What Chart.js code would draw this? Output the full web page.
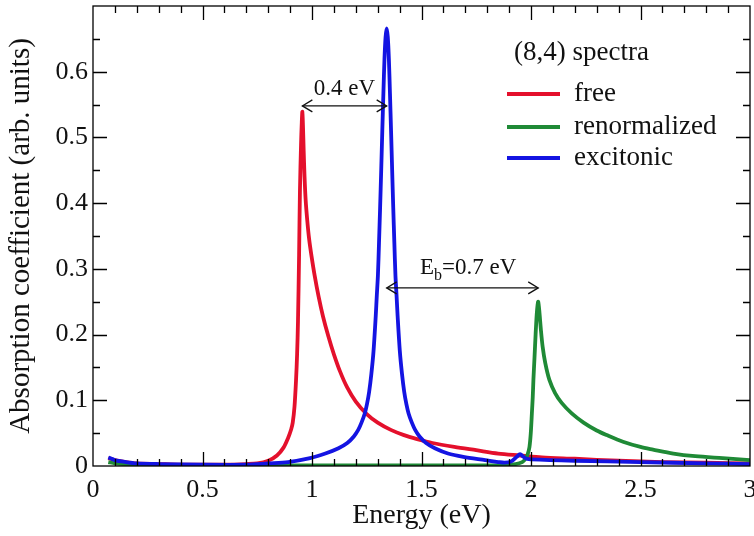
<!DOCTYPE html>
<html>
<head>
<meta charset="utf-8">
<script src="https://cdn.jsdelivr.net/npm/chart.js@4/dist/chart.umd.min.js"></script>
<style>
  html, body { margin: 0; padding: 0; background: #fff; }
  #wrap { width: 754px; height: 536px; }
</style>
</head>
<body>
<div id="wrap"><canvas id="chart1"></canvas></div>
<script>
// (8,4) tube: free, renormalized and excitonic absorption
const freeE = [0.07, 0.1, 0.15, 0.2, 0.3, 0.4, 0.5, 0.6, 0.7, 0.75, 0.8, 0.84, 0.87, 0.89, 0.905, 0.912, 0.92, 0.927, 0.932, 0.936, 0.941, 0.945, 0.95, 0.953, 0.956,
    0.959, 0.962, 0.966, 0.971, 0.978, 0.987, 0.998, 1.012, 1.03, 1.05, 1.075, 1.1, 1.128, 1.16, 1.2, 1.25, 1.3, 1.36, 1.42, 1.48, 1.55, 1.65,
    1.75, 1.85, 1.95, 2.05, 2.2, 2.4, 2.6, 2.8, 3.0]
const freeA = [0.012, 0.009, 0.006, 0.004, 0.003, 0.002, 0.002, 0.002, 0.003, 0.004, 0.008, 0.016, 0.028, 0.042, 0.056, 0.066, 0.09, 0.13, 0.17, 0.22, 0.32, 0.42, 0.49, 0.52, 0.539,
    0.515, 0.48, 0.44, 0.405, 0.375, 0.345, 0.319, 0.29, 0.258, 0.228, 0.197, 0.17, 0.144, 0.12, 0.098, 0.079, 0.066, 0.055, 0.047, 0.041, 0.035, 0.029,
    0.024, 0.019, 0.016, 0.013, 0.011, 0.008, 0.006, 0.005, 0.004]

const renE = [0.07, 0.1, 0.2, 0.4, 0.8, 1.2, 1.6, 1.85, 1.93, 1.96, 1.975, 1.985, 1.993, 1.999, 2.004, 2.008, 2.011, 2.016, 2.021, 2.026, 2.03, 2.033,
    2.038, 2.045, 2.053, 2.065, 2.084, 2.11, 2.14, 2.186, 2.24, 2.3, 2.346, 2.42, 2.5, 2.557, 2.65, 2.75, 2.875, 3.0]
const renA = [0.006, 0.004, 0.002, 0.001, 0.001, 0.001, 0.001, 0.001, 0.003, 0.006, 0.011, 0.018, 0.029, 0.05, 0.08, 0.105, 0.131, 0.165, 0.2, 0.23, 0.245, 0.25,
    0.236, 0.208, 0.182, 0.157, 0.131, 0.111, 0.096, 0.08, 0.066, 0.054, 0.047, 0.037, 0.029, 0.025, 0.019, 0.015, 0.012, 0.009]

const excE = [0.07, 0.1, 0.15, 0.2, 0.3, 0.5, 0.7, 0.8, 0.891, 0.991, 1.061, 1.121, 1.161, 1.191, 1.211, 1.226, 1.241, 1.251, 1.261, 1.271, 1.281, 1.291,
    1.296, 1.301, 1.306, 1.311, 1.316, 1.321, 1.326, 1.331, 1.336, 1.341, 1.346, 1.351, 1.356, 1.361, 1.366, 1.371, 1.376, 1.381, 1.386, 1.391,
    1.401, 1.411, 1.421, 1.431, 1.441, 1.456, 1.471, 1.491, 1.521, 1.561, 1.621, 1.691, 1.791, 1.85, 1.88, 1.91, 1.935, 1.95, 1.965, 1.98, 2.0,
    2.2, 2.5, 2.8, 3.0]
const excA = [0.013, 0.009, 0.006, 0.004, 0.003, 0.002, 0.002, 0.004, 0.006, 0.012, 0.019, 0.027, 0.035, 0.045, 0.055, 0.066, 0.08, 0.094, 0.113, 0.14, 0.175, 0.228,
    0.26, 0.29, 0.34, 0.393, 0.45, 0.51, 0.567, 0.62, 0.653, 0.666, 0.653, 0.62, 0.567, 0.51, 0.45, 0.393, 0.34, 0.29, 0.26, 0.228,
    0.175, 0.14, 0.113, 0.094, 0.08, 0.066, 0.055, 0.045, 0.035, 0.027, 0.019, 0.014, 0.009, 0.006, 0.005, 0.007, 0.014, 0.018, 0.014, 0.011, 0.01,
    0.008, 0.006, 0.004, 0.003]

const seriesNames = ['free', 'renormalized', 'excitonic']
const seriesColors = ['#e4102c', '#1f8a36', '#1414e2']
const xTicks = [0, 0.5, 1, 1.5, 2, 2.5, 3]
const yTicks = [0, 0.1, 0.2, 0.3, 0.4, 0.5, 0.6]

// arrows: [from E, to E, at A]
const gapArrow = [0.956, 1.341, 0.548]
const bindArrow = [1.341, 2.033, 0.271]

const serif = "'Liberation Serif', 'Times New Roman', serif"
Chart.defaults.font.family = serif
Chart.defaults.color = '#111'

function pts(xs, ys){
    return xs.map((x, i) => ({x: x, y: ys[i]}))
}

function num(v){
    return String(+v.toFixed(2))
}

function arrowHead(ctx, x, y, dir){
    ctx.beginPath()
    ctx.moveTo(x - dir * 10, y - 6)
    ctx.lineTo(x, y)
    ctx.lineTo(x - dir * 10, y + 6)
    ctx.stroke()
}

const frame = {
    id: 'frame',
    afterDraw(chart){
        const ctx = chart.ctx
        const a = chart.chartArea
        const xs = chart.scales.x, ys = chart.scales.y
        ctx.save()
        ctx.strokeStyle = '#000'
        ctx.lineWidth = 1.3
        ctx.strokeRect(a.left, a.top, a.right - a.left, a.bottom - a.top)

        // ticks on all four sides, pointing in
        ctx.beginPath()
        for (let i = 1; i < 30; i++){
            const px = Math.round(xs.getPixelForValue(i / 10)) + 0.5
            const len = i % 5 === 0 ? 14 : 7
            ctx.moveTo(px, a.bottom); ctx.lineTo(px, a.bottom - len)
            ctx.moveTo(px, a.top); ctx.lineTo(px, a.top + len)
        }
        for (let i = 1; i < 14; i++){
            const py = Math.round(ys.getPixelForValue(i * 0.05)) + 0.5
            const len = i % 2 === 0 ? 14 : 7
            ctx.moveTo(a.left, py); ctx.lineTo(a.left + len, py)
            ctx.moveTo(a.right, py); ctx.lineTo(a.right - len, py)
        }
        ctx.stroke()

        // legend
        ctx.fillStyle = '#111'
        ctx.font = '27px ' + serif
        ctx.textBaseline = 'middle'
        ctx.textAlign = 'left'
        ctx.fillText('(8,4) spectra', 514, 53)
        const rows = [94, 127, 158]
        rows.forEach((ry, i) => {
            ctx.strokeStyle = seriesColors[i]
            ctx.lineWidth = 4
            ctx.beginPath()
            ctx.moveTo(507, ry); ctx.lineTo(560, ry)
            ctx.stroke()
            ctx.fillText(seriesNames[i], 574, ry)
        })

        // double arrows
        ctx.strokeStyle = '#111'
        ctx.lineWidth = 1.3
        ;[gapArrow, bindArrow].forEach(arr => {
            const x1 = xs.getPixelForValue(arr[0]), x2 = xs.getPixelForValue(arr[1])
            const y = ys.getPixelForValue(arr[2])
            ctx.beginPath()
            ctx.moveTo(x1, y); ctx.lineTo(x2, y)
            ctx.stroke()
            arrowHead(ctx, x1, y, -1)
            arrowHead(ctx, x2, y, 1)
        })

        const g1 = ys.getPixelForValue(gapArrow[2])
        ctx.font = '23px ' + serif
        ctx.textAlign = 'center'
        ctx.fillText('0.4 eV', (xs.getPixelForValue(gapArrow[0]) + xs.getPixelForValue(gapArrow[1])) / 2, g1 - 17)

        const g2 = ys.getPixelForValue(bindArrow[2])
        ctx.textAlign = 'left'
        let tx = 420
        ctx.fillText('E', tx, g2 - 20)
        tx += ctx.measureText('E').width
        ctx.font = '16px ' + serif
        ctx.fillText('b', tx, g2 - 12)
        tx += ctx.measureText('b').width
        ctx.font = '23px ' + serif
        ctx.fillText('=0.7 eV', tx, g2 - 20)
        ctx.restore()
    }
}

new Chart(document.getElementById('chart1'), {
    type: 'line',
    data: {
        datasets: [
            {label: seriesNames[2], data: pts(excE, excA), borderColor: seriesColors[2]},
            {label: seriesNames[1], data: pts(renE, renA), borderColor: seriesColors[1]},
            {label: seriesNames[0], data: pts(freeE, freeA), borderColor: seriesColors[0]}
        ]
    },
    options: {
        responsive: true,
        maintainAspectRatio: false,
        animation: false,
        layout: {padding: {top: 6, right: 4, left: 0, bottom: 0}},
        elements: {
            point: {radius: 0},
            line: {borderWidth: 3.8, tension: 0.3}
        },
        plugins: {legend: {display: false}, tooltip: {enabled: false}},
        scales: {
            x: {
                type: 'linear', min: 0, max: 3,
                grid: {display: false, drawTicks: false},
                border: {display: false},
                afterBuildTicks: s => { s.ticks = xTicks.map(v => ({value: v})) },
                ticks: {font: {size: 26}, padding: 9, color: '#111', maxRotation: 0, callback: v => num(v)},
                title: {display: true, text: 'Energy (eV)', font: {size: 28}, color: '#111', padding: {top: 8}},
                afterFit: s => { s.height = 70; s.paddingLeft = 0; s.paddingRight = 0 }
            },
            y: {
                type: 'linear', min: 0, max: 0.7,
                grid: {display: false, drawTicks: false},
                border: {display: false},
                afterBuildTicks: s => { s.ticks = yTicks.map(v => ({value: v})) },
                ticks: {font: {size: 26}, padding: 5, color: '#111', callback: v => num(v)},
                title: {display: true, text: 'Absorption coefficient (arb. units)', font: {size: 29}, color: '#111', padding: {bottom: 2}},
                afterFit: s => { s.width = 93; s.paddingTop = 0; s.paddingBottom = 0 }
            }
        }
    },
    plugins: [frame]
})
</script>
</body>
</html>
